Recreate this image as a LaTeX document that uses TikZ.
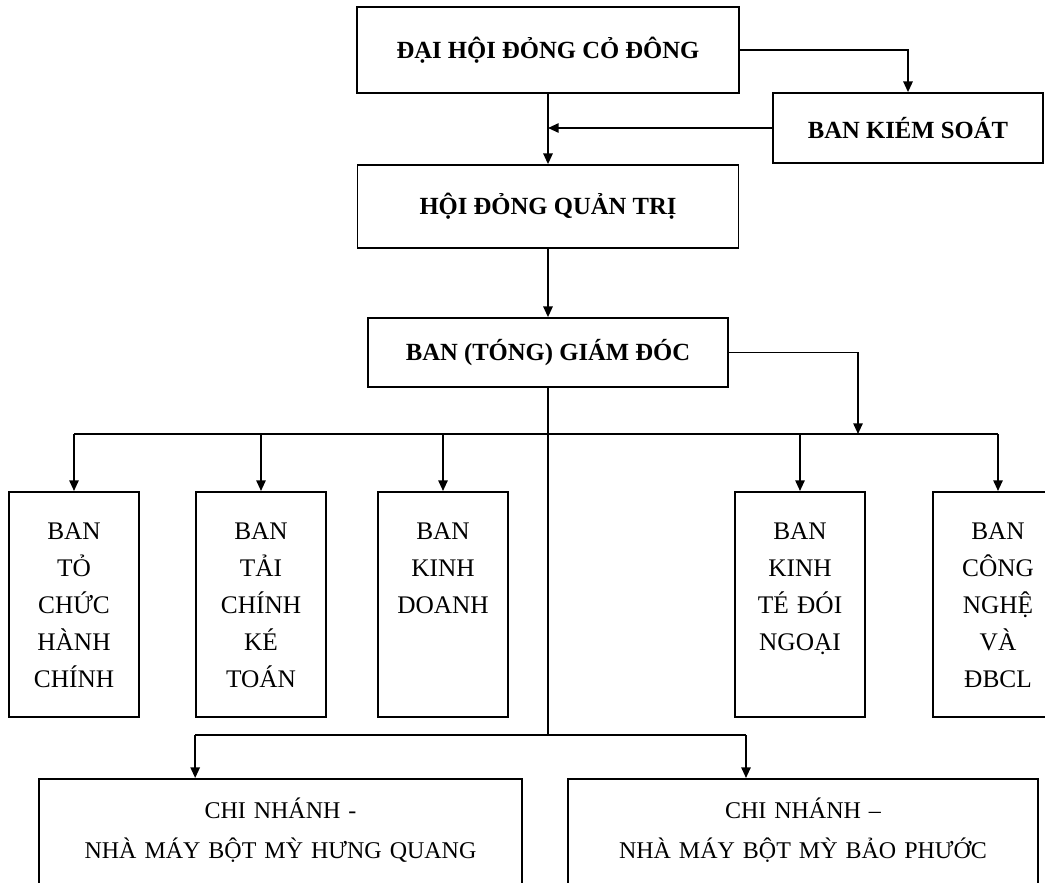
\documentclass[tikz,border=0pt]{standalone}
\usepackage{fontspec}
\setmainfont{Liberation Serif}
\usetikzlibrary{arrows.meta, positioning, calc}

\begin{document}
\begin{tikzpicture}[
    x=0.75pt, y=-0.75pt,
    >={Triangle[length=8pt,width=7pt]},
    line width=1.3pt,
    headbox/.style={draw, inner sep=0pt, font=\bfseries\fontsize{18.5}{22}\selectfont},
    deptbox/.style={draw, inner sep=0pt, align=center, text width=97.5pt,
        text height=36pt, text depth=132.75pt, font=\fontsize{19}{27.75}\selectfont},
    branchbox/.style={draw, inner sep=0pt, align=center,
        text height=30pt, text depth=63pt, font=\fontsize{18}{30}\selectfont}
]

    % Frame
    \useasboundingbox (0,0) rectangle (1045,882);
    \clip (0,0) rectangle (1045,882);

    % Top levels
    \node[headbox, minimum width=286.5pt, minimum height=64.5pt] (dhdcd) at (548,50) {ĐẠI HỘI ĐỎNG CỎ ĐÔNG};
    \node[headbox, minimum width=202.5pt, minimum height=52.5pt] (bks) at (908,128) {BAN KIÉM SOÁT};
    \node[headbox, minimum width=285.75pt, minimum height=62.25pt] (hdqt) at (548,206.5) {HỘI ĐỎNG QUẢN TRỊ};
    \node[headbox, minimum width=270pt, minimum height=51.75pt] (btgd) at (548,352.5) {BAN (TÓNG) GIÁM ĐÓC};

    % Departments
    \node[deptbox, anchor=north] (d1) at (74,491) {BAN\\TỎ\\CHỨC\\HÀNH\\CHÍNH};
    \node[deptbox, anchor=north] (d2) at (261,491) {BAN\\TẢI\\CHÍNH\\KÉ\\TOÁN};
    \node[deptbox, anchor=north] (d3) at (443,491) {BAN\\KINH\\DOANH};
    \node[deptbox, anchor=north] (d4) at (800,491) {BAN\\KINH\\TÉ ĐÓI\\NGOẠI};
    \node[deptbox, anchor=north] (d5) at (998,491) {BAN\\CÔNG\\NGHỆ\\VÀ\\ĐBCL};

    % Branches
    \node[branchbox, text width=362.25pt, anchor=north] (br1) at (280.5,778) {CHI NHÁNH -\\NHÀ MÁY BỘT MỲ HƯNG QUANG};
    \node[branchbox, text width=352.5pt, anchor=north] (br2) at (803,778) {CHI NHÁNH –\\NHÀ MÁY BỘT MỲ BẢO PHƯỚC};

    % Upper links
    \draw[->] (dhdcd.east) -| (bks.north);
    \draw[->] (dhdcd.south) -- (hdqt.north);
    \coordinate (kj) at (dhdcd.south |- bks.west);
    \draw[->] (bks.west) -- (kj);
    \draw[->] (hdqt.south) -- (btgd.north);

    % Department bus
    \coordinate (busL) at (d1.north |- 0,434);
    \coordinate (busR) at (d5.north |- 0,434);
    \coordinate (busK) at (858,434);
    \draw (busL) -- (busR);
    \draw[->] (btgd.east) -| (busK);
    \foreach \n in {d1,d2,d3,d4,d5}
        \draw[->] (\n.north |- busL) -- (\n.north);

    % Branch bus
    \coordinate (busB) at (btgd.south |- 0,735);
    \coordinate (brA) at ([xshift=-64pt]br1.north);
    \coordinate (brB) at ([xshift=-42.75pt]br2.north);
    \draw (btgd.south) -- (busB);
    \draw (brA |- busB) -- (brB |- busB);
    \draw[->] (brA |- busB) -- (brA);
    \draw[->] (brB |- busB) -- (brB);

\end{tikzpicture}
\end{document}
